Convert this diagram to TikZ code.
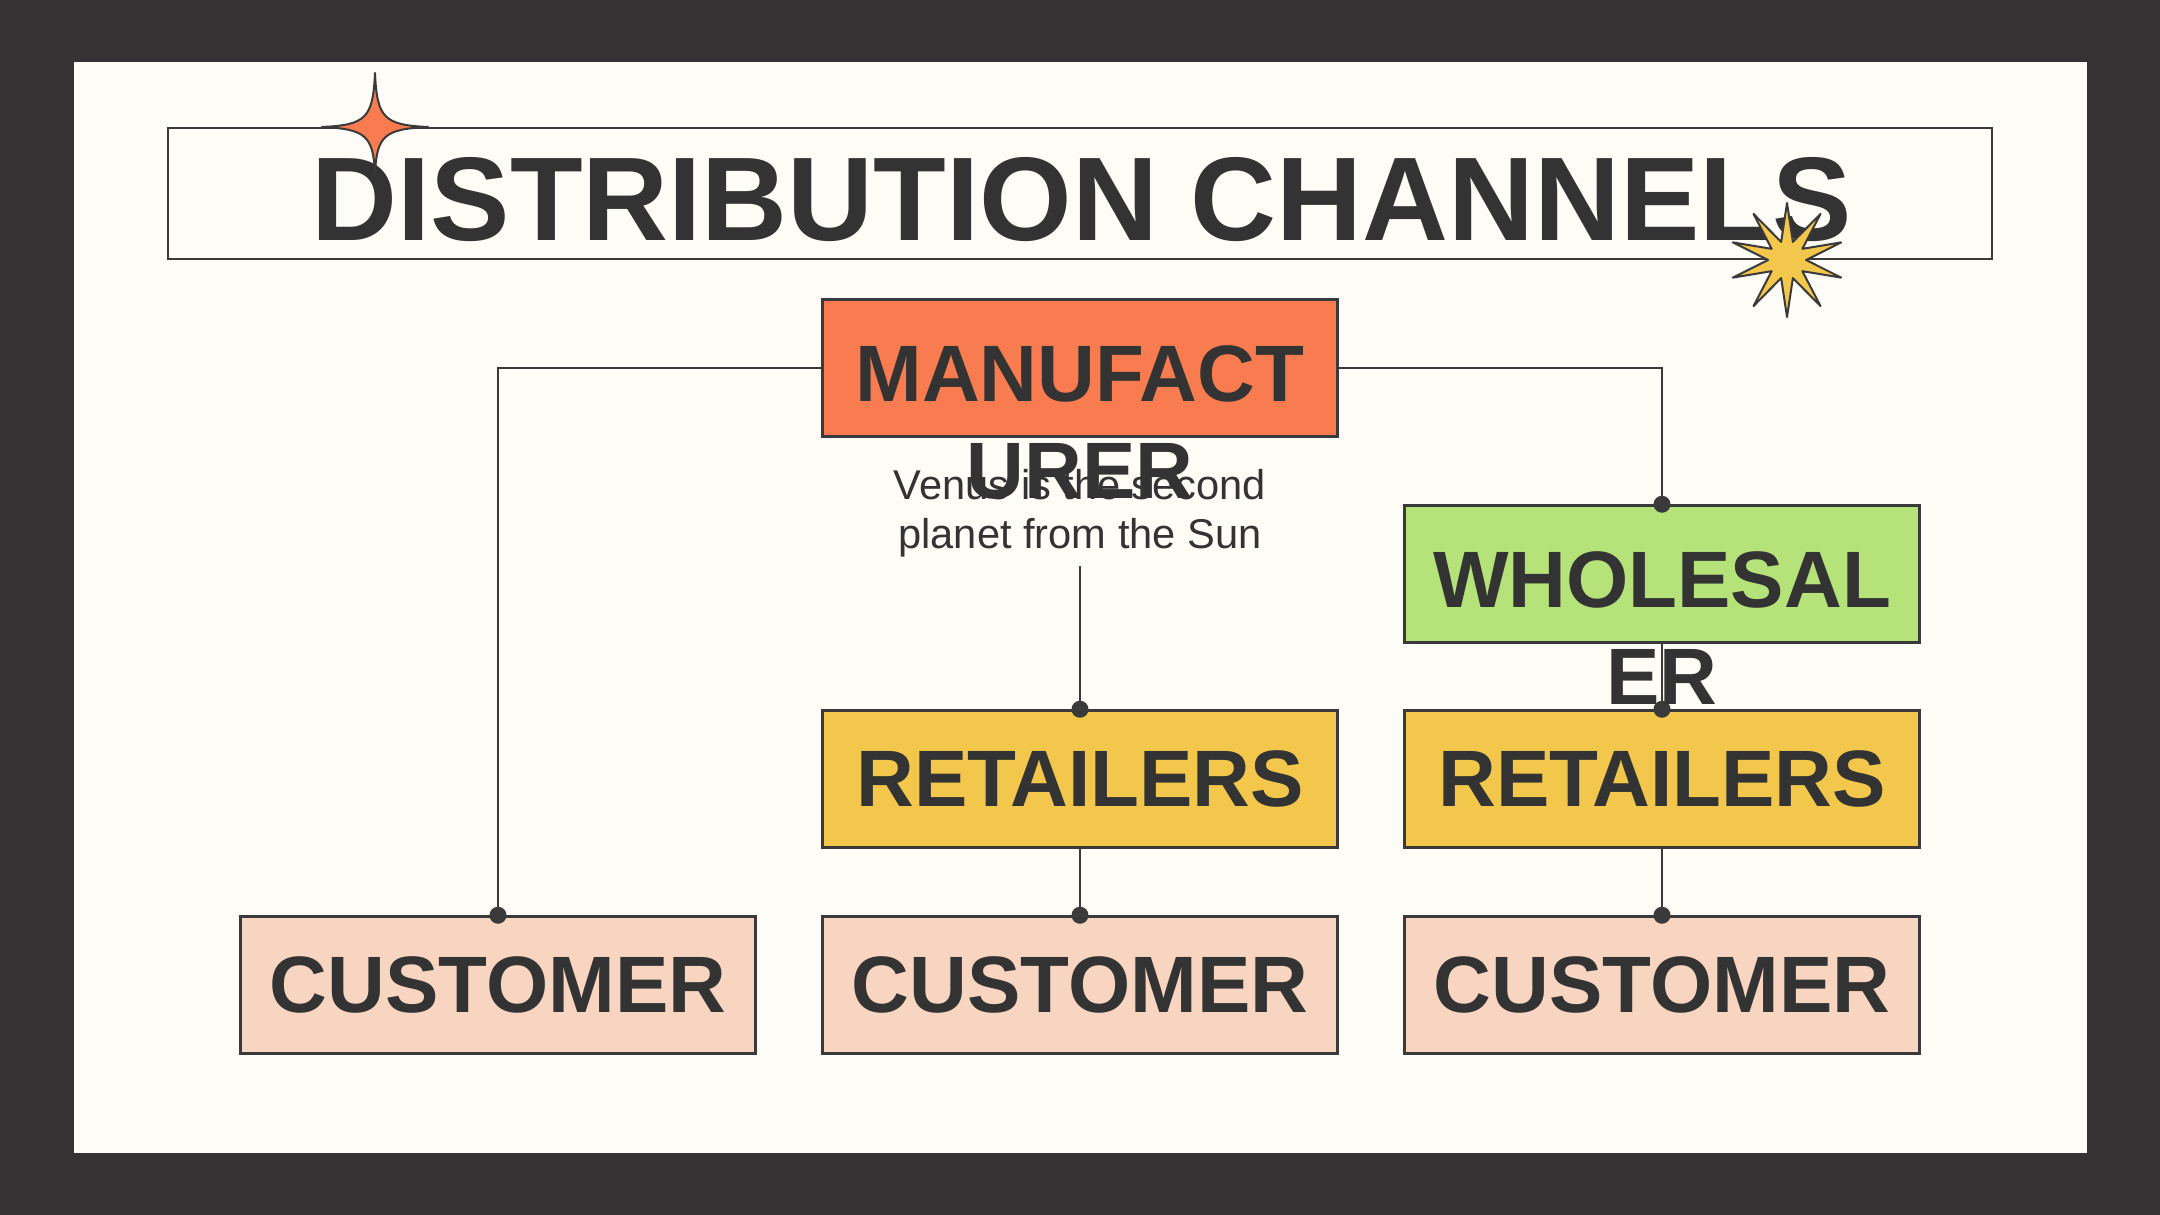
\documentclass[tikz,border=0pt]{standalone}
\usepackage{fontspec}
\setmainfont{Liberation Sans}
\definecolor{bgdark}{HTML}{343233}
\definecolor{cream}{HTML}{FDFCF7}
\definecolor{linec}{HTML}{3A3A3A}
\definecolor{txt}{HTML}{333333}
\definecolor{orangeF}{HTML}{F97C50}
\definecolor{greenF}{HTML}{B6E27A}
\definecolor{yellowF}{HTML}{F2C74B}
\definecolor{peachF}{HTML}{F8D5C0}
\begin{document}
\begin{tikzpicture}[x=1pt,y=-1pt,
  box/.style={draw=linec, line width=2.5pt, minimum width=515pt, minimum height=137pt, inner sep=0pt, text=txt, font=\bfseries\fontsize{80}{96}\selectfont},
  lbl/.style={text=txt, inner sep=0pt, anchor=base, align=center, font=\bfseries\fontsize{80}{97}\selectfont},
  conn/.style={draw=linec, line width=2.2pt},
  dotc/.style={circle, fill=linec, inner sep=0pt, minimum size=17pt},
  starline/.style={draw=linec, line width=2pt, line join=round}]
% background
\fill[bgdark] (0,0) rectangle (2160,1215);
\fill[cream] (74,62) rectangle (2087,1153);
% title
\draw[linec, line width=2.5pt] (168,128) rectangle (1992,259);
\node[text=txt, inner sep=0pt, anchor=base, font=\bfseries\fontsize{119}{119}\selectfont] (title) at (1082,240) {DISTRIBUTION CHANNELS};
% connector anchor points
\coordinate (leftc) at (498,368);
\coordinate (rightc) at (1662,368);
\coordinate (midstart) at (1080,566);
% boxes
\node[box, fill=orangeF] (manu) at (1080,368) {};
\node[box, fill=greenF] (whole) at (1662,574) {};
\node[box, fill=yellowF] (ret1) at (1080,779) {RETAILERS};
\node[box, fill=yellowF] (ret2) at (1662,779) {RETAILERS};
\node[box, fill=peachF] (cust1) at (498,985) {CUSTOMER};
\node[box, fill=peachF] (cust2) at (1080,985) {CUSTOMER};
\node[box, fill=peachF] (cust3) at (1662,985) {CUSTOMER};
% connectors
\draw[conn] (manu.west) -- (leftc) -- (cust1.north);
\draw[conn] (manu.east) -- (rightc) -- (whole.north);
\draw[conn] (midstart) -- (ret1.north);
\draw[conn] (whole.south) -- (ret2.north);
\draw[conn] (ret1.south) -- (cust2.north);
\draw[conn] (ret2.south) -- (cust3.north);
% dots
\node[dotc] (d1) at (cust1.north) {};
\node[dotc] (d2) at (whole.north) {};
\node[dotc] (d3) at (ret1.north) {};
\node[dotc] (d4) at (ret2.north) {};
\node[dotc] (d5) at (cust2.north) {};
\node[dotc] (d6) at (cust3.north) {};
% wrapped labels (anchor=base is the last line's baseline)
\node[lbl] (manuT) at (1080,498) {MANUFACT\\URER};
\node[lbl] (wholeT) at (1662,704) {WHOLESAL\\ER};
% description
\node[text=txt, inner sep=0pt, anchor=base, align=center, font=\fontsize{41.6}{49}\selectfont] (desc) at (1080,548) {Venus is the second\\planet from the Sun};
% stars
\begin{scope}[shift={(375,127)}]
\filldraw[starline, fill=orangeF] (0,-54) .. controls (2,-9) and (9,-2) .. (53,0) .. controls (9,2) and (2,9) .. (0,46) .. controls (-2,9) and (-9,2) .. (-53,0) .. controls (-9,-2) and (-2,-9) .. cycle;
\end{scope}
\begin{scope}[shift={(1787,260)}]
\filldraw[starline, fill=yellowF] (90:57) \foreach \a in {0,36,...,324} { -- ({108+\a}:19) -- ({126+\a}:57) } -- cycle;
\end{scope}
\end{tikzpicture}
\end{document}
